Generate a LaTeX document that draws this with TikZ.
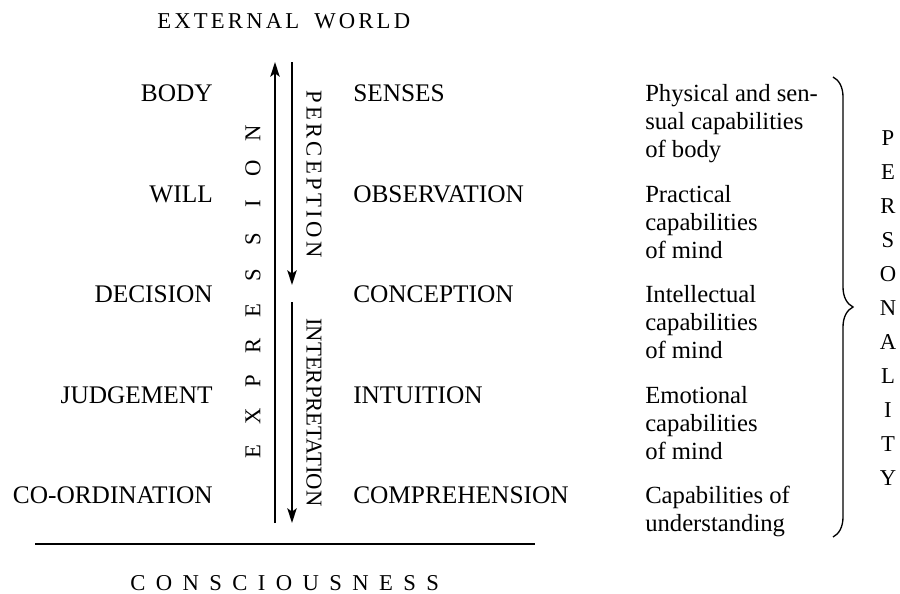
\documentclass[tikz,border=0pt]{standalone}
\usepackage{fontspec}
\setmainfont{Liberation Serif}
\usetikzlibrary{arrows.meta,decorations.pathreplacing}
\newcommand\gA{\kern2.4pt}
\newcommand\gB{\kern7.8pt}
\newcommand\gC{\kern2.5pt}
\begin{document}
\begin{tikzpicture}[x=0.75pt,y=-0.75pt,
  lab/.style={font=\fontsize{19}{21}\selectfont, inner sep=0pt},
  desc/.style={font=\fontsize{18.5}{21}\selectfont, inner sep=0pt, anchor=base west},
  ttl/.style={font=\fontsize{17}{20}\selectfont, inner sep=0pt},
  arr/.style={line width=1.6pt, -{Stealth[length=11pt,width=7pt,inset=2.5pt]}},
  rule/.style={line width=1.2pt},
  bracestyle/.style={line width=1pt, decorate, decoration={brace, amplitude=15pt, aspect=0.5}}]
\useasboundingbox (0,0) rectangle (900,593);
% titles
\node[ttl, anchor=base west] (ext) at (157,28) {E\gA X\gA T\gA E\gA R\gA N\gA A\gA L\kern11.25pt W\gA O\gA R\gA L\gA D};
\node[ttl, anchor=base west] (cons) at (130,590) {C\gB O\gB N\gB S\gB C\gB I\gB O\gB U\gB S\gB N\gB E\gB S\gB S};
% left labels
\node[lab, anchor=base east] (body) at (213,101.5) {BODY};
\node[lab, anchor=base east] (will) at (213,202.5) {WILL};
\node[lab, anchor=base east] (dec) at (213,302.5) {DECISION};
\node[lab, anchor=base east] (judg) at (213,403.5) {JUDGEMENT};
\node[lab, anchor=base east] (coord) at (213,503.5) {CO-ORDINATION};
% middle labels
\node[lab, anchor=base west] (sens) at (353,101.5) {SENSES};
\node[lab, anchor=base west] (obs) at (353,202.5) {OBSERVATION};
\node[lab, anchor=base west] (conc) at (353,302.5) {CONCEPTION};
\node[lab, anchor=base west] (intu) at (353,403.5) {INTUITION};
\node[lab, anchor=base west] (comp) at (353,503.5) {COMPREHENSION};
% right descriptions
\node[desc] (d1a) at (645,101.5) {Physical and sen-};
\node[desc] (d1b) at (645,129.5) {sual capabilities};
\node[desc] (d1c) at (645,157.5) {of body};
\node[desc] (d2a) at (645,202.5) {Practical};
\node[desc] (d2b) at (645,230.5) {capabilities};
\node[desc] (d2c) at (645,258.5) {of mind};
\node[desc] (d3a) at (645,302.5) {Intellectual};
\node[desc] (d3b) at (645,330.5) {capabilities};
\node[desc] (d3c) at (645,358.5) {of mind};
\node[desc] (d4a) at (645,403.5) {Emotional};
\node[desc] (d4b) at (645,431.5) {capabilities};
\node[desc] (d4c) at (645,459.5) {of mind};
\node[desc] (d5a) at (645,503.5) {Capabilities of};
\node[desc] (d5b) at (645,531.5) {understanding};
% arrows
\coordinate (upS) at (275,523);
\coordinate (upE) at (275,62);
\coordinate (pS) at (292,62);
\coordinate (pE) at (292,285);
\coordinate (iS) at (292,302);
\coordinate (iE) at (292,523);
\draw[arr] (upS) -- (upE);
\draw[arr] (pS) -- (pE);
\draw[arr] (iS) -- (iE);
% vertical labels
\node[ttl, rotate=-90] (perc) at (314,174) {P\gC E\gC R\gC C\gC E\gC P\gC T\gC I\gC O\gC N};
\node[ttl, rotate=-90] (interp) at (314,412.5) {INTERPRETATION};
\foreach \ch [count=\i from 0] in {E,X,P,R,E,S,S,I,O,N}
  \node[ttl, rotate=90] (ex\i) at (253,{452-35.44*\i}) {\ch};
\foreach \ch [count=\i from 0] in {P,E,R,S,O,N,A,L,I,T,Y}
  \node[ttl] (pe\i) at (888,{138+34*\i}) {\ch};
% rule
\coordinate (hl) at (35,544);
\coordinate (hr) at (535,544);
\draw[rule] (hl) -- (hr);
% brace
\coordinate (bt) at (833,77);
\coordinate (bb) at (833,537);
\draw[bracestyle] (bt) -- (bb);
\end{tikzpicture}
\end{document}
